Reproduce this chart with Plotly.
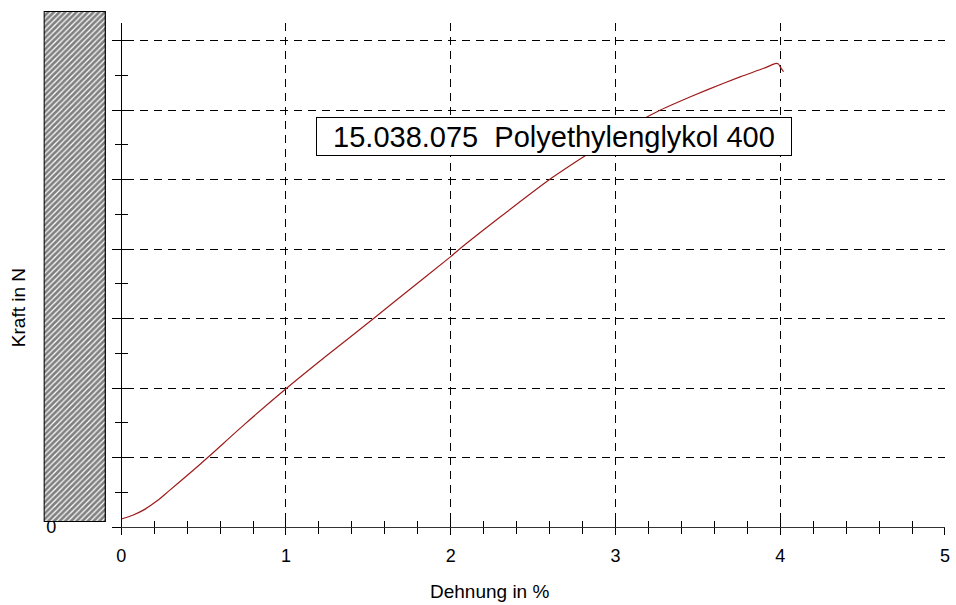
import plotly.graph_objects as go

# ---- data ----
strain_pct = [0.0, 0.07, 0.14, 0.22, 0.29, 0.40, 0.53, 0.75, 1.011, 1.25, 1.532,
              1.673, 2.0, 2.054, 2.30, 2.60, 2.776, 3.0, 3.177, 3.273, 3.357, 3.556,
              3.76, 3.90, 3.96, 3.975, 3.99, 4.0, 4.02]
force_n = [11.5, 17, 25, 38, 52, 74, 101, 148, 201, 247, 300,
           327, 389, 400, 446, 500, 528, 562, 588, 600, 609, 629,
           648, 660, 666, 667, 666, 662, 655]
x_tick_vals = [0, 1, 2, 3, 4, 5]
x_tick_text = ["0", "1", "2", "3", "4", "5"]
y_label_vals = [0]
y_label_text = ["0"]
sample_label = "15.038.075  Polyethylenglykol 400"
x_title = "Dehnung in %"
y_title = "Kraft in N"

# ---- geometry helpers ----
W, H = 956, 605
X0PX, X5PX = 121.7, 950.5
L, R, T, B = 40, W - X5PX, 10, 78
PW, PH = W - L - R, H - T - B


def fx(p):
    return (p - L) / PW


def fy(p):
    return (H - B - p) / PH


PXU = (X5PX - X0PX) / 5.0
x_range = [(112 - X0PX) / PXU, 5]
YTOP = 23
y_range = [0, (527 - YTOP) / 69.5 * 100]

FONT = "Liberation Sans, Arial, sans-serif"
DASH = "8px,6px"

fig = go.Figure()

fig.add_trace(go.Scatter(x=strain_pct, y=force_n, mode="lines",
                         line=dict(color="#9E1B1B", width=1.2, shape="spline", smoothing=0.6),
                         xaxis="x", yaxis="y", hoverinfo="skip", showlegend=False))
# invisible helpers so overlay axes render
fig.add_trace(go.Scatter(x=[None], y=[None], xaxis="x3", yaxis="y5", showlegend=False))
fig.add_trace(go.Scatter(x=[None], y=[None], xaxis="x", yaxis="y6", showlegend=False))

# hatched box on its own small subplot
fig.add_trace(go.Bar(x=[0], y=[1], width=1, xaxis="x2", yaxis="y2",
                     marker=dict(color="white",
                                 pattern=dict(shape="/", size=4, solidity=0.7,
                                              fgcolor="black", bgcolor="white"),
                                 line=dict(color="black", width=2)),
                     cliponaxis=False, hoverinfo="skip", showlegend=False))

common_x = dict(range=x_range, tickmode="array", tickvals=x_tick_vals,
                tickcolor="black", tickwidth=1, zeroline=False)
common_y = dict(range=y_range, tick0=0, dtick=100, tickcolor="black",
                tickwidth=1, zeroline=False, anchor="free", position=fx(X0PX),
                domain=[0, fy(YTOP)])

fig.update_layout(
    width=W, height=H,
    margin=dict(l=L, r=R, t=T, b=B),
    paper_bgcolor="white", plot_bgcolor="white",
    font=dict(family=FONT, color="black"),
    showlegend=False,
    bargap=0,
    xaxis=dict(**common_x, domain=[fx(112), 1], anchor="y",
               ticktext=x_tick_text, tickfont=dict(size=18),
               ticks="outside", ticklen=7, ticklabelstandoff=5,
               showline=True, linecolor="#333", linewidth=1,
               showgrid=True, gridcolor="black", gridwidth=1, griddash=DASH,
               minor=dict(ticks="outside", ticklen=6, tick0=0, dtick=0.2,
                          tickcolor="black", showgrid=False)),
    xaxis3=dict(**common_x, overlaying="x", anchor="y",
                ticks="inside", ticklen=7, showticklabels=False,
                showgrid=False, showline=False,
                minor=dict(ticks="inside", ticklen=6, tick0=0, dtick=0.2,
                           tickcolor="black", showgrid=False)),
    yaxis=dict(**common_y, ticks="outside", ticklen=9, showticklabels=False,
               showline=True, linecolor="black", linewidth=1,
               showgrid=True, gridcolor="black", gridwidth=1, griddash=DASH,
               minor=dict(ticks="outside", ticklen=6, tick0=0, dtick=50,
                          tickcolor="black", showgrid=False)),
    yaxis5=dict(**common_y, overlaying="y", ticks="inside", ticklen=9,
                showticklabels=False, showline=False, showgrid=False,
                minor=dict(ticks="inside", ticklen=6, tick0=0, dtick=50,
                           tickcolor="black", showgrid=False)),
    yaxis6=dict(range=y_range, anchor="free", position=fx(X0PX), overlaying="y",
                tickmode="array", tickvals=y_label_vals, ticktext=y_label_text,
                ticks="", showgrid=False, showline=False, zeroline=False,
                tickfont=dict(size=18), ticklabelstandoff=65),
    xaxis2=dict(domain=[fx(43.7), fx(106.3)], range=[-0.5, 0.5], anchor="y2",
                visible=False, fixedrange=True),
    yaxis2=dict(domain=[fy(522), fy(11)], range=[0, 1], anchor="x2",
                visible=False, fixedrange=True),
    annotations=[
        dict(text=x_title, xref="paper", yref="paper", x=fx(492), y=fy(591),
             showarrow=False, font=dict(size=19), xanchor="center", yanchor="middle"),
        dict(text=y_title, xref="paper", yref="paper", x=fx(18), y=fy(308),
             showarrow=False, font=dict(size=19), textangle=-90,
             xanchor="center", yanchor="middle"),
        dict(text=sample_label, xref="x", yref="y",
             x=(557.5 - X0PX) / PXU, y=(527 - 136.5) / 69.5 * 100,
             showarrow=False, font=dict(size=29), bgcolor="white",
             bordercolor="black", borderwidth=1, borderpad=2,
             width=470, height=33, align="center"),
    ],
)

fig.write_html(
    "out.html",
    post_script=(
        "document.body.style.margin='0';"
        "var s=document.createElement('style');"
        "s.textContent='.modebar-container{display:none !important;}';"
        "document.head.appendChild(s);"
    ),
)
